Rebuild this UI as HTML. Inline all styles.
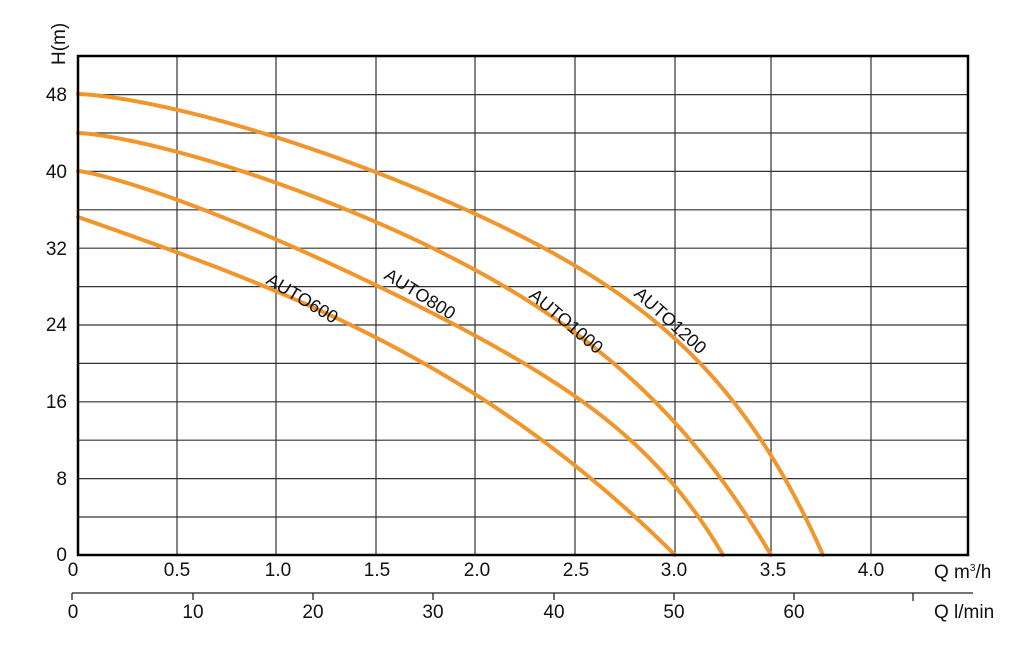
<!DOCTYPE html>
<html><head><meta charset="utf-8"><style>
html,body{margin:0;padding:0;background:#fff;}
svg{display:block;font-family:"Liberation Sans",Arial,sans-serif;}
</style></head><body>
<svg id="s" width="1032" height="647" viewBox="0 0 1032 647" xmlns="http://www.w3.org/2000/svg">
<g stroke="#333" stroke-width="1.2">
<line x1="177" y1="56" x2="177" y2="555"/><line x1="276" y1="56" x2="276" y2="555"/>
<line x1="376" y1="56" x2="376" y2="555"/><line x1="475" y1="56" x2="475" y2="555"/>
<line x1="575" y1="56" x2="575" y2="555"/><line x1="675" y1="56" x2="675" y2="555"/>
<line x1="771" y1="56" x2="771" y2="555"/><line x1="871" y1="56" x2="871" y2="555"/>
<line x1="78" y1="94.6" x2="968" y2="94.6"/><line x1="78" y1="133" x2="968" y2="133"/>
<line x1="78" y1="171.4" x2="968" y2="171.4"/><line x1="78" y1="209.8" x2="968" y2="209.8"/>
<line x1="78" y1="248.2" x2="968" y2="248.2"/><line x1="78" y1="286.6" x2="968" y2="286.6"/>
<line x1="78" y1="325" x2="968" y2="325"/><line x1="78" y1="363.4" x2="968" y2="363.4"/>
<line x1="78" y1="401.8" x2="968" y2="401.8"/><line x1="78" y1="440.2" x2="968" y2="440.2"/>
<line x1="78" y1="478.6" x2="968" y2="478.6"/><line x1="78" y1="517" x2="968" y2="517"/>
</g>
<g id="curves" fill="none" stroke="#f0962c" stroke-width="4" stroke-linecap="round" stroke-linejoin="round"></g>
<rect x="78" y="56" width="890" height="499" fill="none" stroke="#000" stroke-width="2.5"/>
<g font-size="19" fill="#111" text-anchor="end">
<text x="67" y="101">48</text><text x="67" y="178">40</text><text x="67" y="255">32</text>
<text x="67" y="331">24</text><text x="67" y="408">16</text><text x="67" y="485">8</text>
<text x="67" y="561">0</text>
</g>
<text transform="translate(65,65) rotate(-90)" font-size="19" fill="#111">H(m)</text>
<g font-size="19" fill="#111" text-anchor="middle">
<text x="73" y="576">0</text><text x="177" y="576">0.5</text><text x="278" y="576">1.0</text>
<text x="377" y="576">1.5</text><text x="477" y="576">2.0</text><text x="576" y="576">2.5</text>
<text x="674" y="576">3.0</text><text x="773" y="576">3.5</text><text x="871" y="576">4.0</text>
<text x="73" y="618">0</text><text x="193" y="618">10</text><text x="313" y="618">20</text>
<text x="433" y="618">30</text><text x="554" y="618">40</text><text x="674" y="618">50</text>
<text x="794" y="618">60</text>
</g>
<text x="934" y="578" font-size="19" fill="#111">Q m<tspan font-size="10" dy="-7">3</tspan><tspan dy="7">/h</tspan></text>
<text x="934" y="618" font-size="19" fill="#111">Q l/min</text>
<g stroke="#222" stroke-width="1.3">
<line x1="72" y1="593" x2="973" y2="593"/>
<line x1="72" y1="593" x2="72" y2="600"/><line x1="193" y1="593" x2="193" y2="600"/>
<line x1="313" y1="593" x2="313" y2="600"/><line x1="433" y1="593" x2="433" y2="600"/>
<line x1="554" y1="593" x2="554" y2="600"/><line x1="674" y1="593" x2="674" y2="600"/>
<line x1="794" y1="593" x2="794" y2="600"/><line x1="913" y1="593" x2="913" y2="601"/>
</g>
<g font-size="18" fill="#111">
<text transform="translate(265,283) rotate(31)">AUTO600</text>
<text transform="translate(383,278) rotate(32)">AUTO800</text>
<text transform="translate(528,297) rotate(40)">AUTO1000</text>
<text transform="translate(633,295) rotate(42)">AUTO1200</text>
</g>
</svg>
<script>
var data=[
[[78,94],[177,113],[276,137],[376,171],[475,213],[575,267],[675,343],[733,403],[771,450],[793,493],[823,555]],
[[78,133],[177,153],[270,179],[376,222],[475,270],[560,320],[675,425],[723,480],[747,517],[771,555]],
[[78,171],[177,200],[270,236],[376,286],[475,338],[575,397],[675,485],[723,555]],
[[78,217],[177,252],[270,290],[376,340],[475,390],[560,457],[675,555]]
];
var g=document.getElementById('curves');
data.forEach(function(p){
 var x0=p[0][0],y0=p[0][1],xm=p[p.length-1][0],W=xm-x0,D=555-y0;
 function f(x,a,m,n){var r=(x-x0)/W;return y0+D*(a*Math.pow(r,m)+(1-a)*Math.pow(r,n));}
 var best=1e18,B=[1,2,2];
 for(var a=0;a<=1.0001;a+=0.02)for(var m=1;m<=3;m+=0.05)for(var n=2;n<=10;n+=0.2){
  var e=0;for(var i=1;i<p.length-1;i++){var d=f(p[i][0],a,m,n)-p[i][1];e+=d*d;}
  if(e<best){best=e;B=[a,m,n];}
 }
 var d='M'+x0+','+y0;
 for(var k=1;k<=300;k++){var x=x0+W*k/300;d+=' L'+x.toFixed(2)+','+f(x,B[0],B[1],B[2]).toFixed(2);}
 var el=document.createElementNS('http://www.w3.org/2000/svg','path');
 el.setAttribute('d',d);g.appendChild(el);
});
</script>
</body></html>
